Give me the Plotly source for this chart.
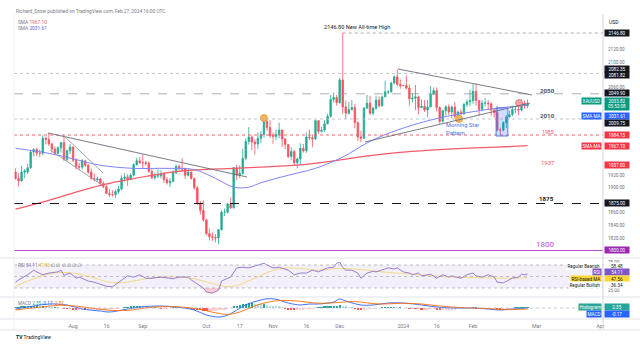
import numpy as np
import plotly.graph_objects as go

W, H = 640, 349
L, R = 14, 37

# ---------------- data ----------------
open_ = [1925,1915,1911,1925,1925,1932,1957,1961,1955,1955,1979,1977,1970,1962,1955,1964,1972,1945,1959,
         1965,1944,1934,1933,1943,1936,1925,1915,1913,1914,1907,1902,1891,1889,1889,1894,1898,1915,1917,1914,1920,1937,1943,
         1940,1940,1939,1926,1916,1919,1919,1922,1913,1908,1910,1924,1934,1931,1930,1920,1925,1915,1900,1875,1864,
         1849,1827,1822,1821,1820,1833,1861,1861,1874,1868,1932,1920,1923,1947,1974,1981,1973,1970,1979,1985,2006,1996,
         1983,1982,1985,1992,1978,1969,1950,1958,1940,1946,1963,1959,1981,1980,1978,2007,1990,1992,2002,2014,2041,2044,
         2036,2072,2029,2019,2025,2028,2004,1981,1979,2027,2035,2019,2027,2040,2031,2045,2053,2053,2067,2077,2065,
         2063,2063,2059,2042,2043,2045,2028,2030,2024,2029,2049,2055,2028,2006,2023,2029,2021,2029,2014,2021,2018,2033,2037,
         2039,2054,2039,2025,2035,2035,2034,2024,2020,1992,1992,2004,2013,2017,2025,2025,2024,2035,2031]
high_ = [1931,1923,1935,1930,1938,1959,1963,1964,1961,1984,1982,1987,1972,1966,1966,1973,1982,1961,1970,
         1966,1947,1940,1946,1944,1938,1931,1923,1918,1916,1910,1904,1898,1896,1897,1903,1920,1923,1922,1923,1939,1948,1949,
         1953,1943,1942,1931,1924,1929,1928,1925,1917,1915,1928,1937,1937,1947,1932,1930,1926,1916,1903,1879,1880,
         1850,1835,1829,1826,1834,1864,1867,1876,1885,1933,1937,1936,1962,1979,1997,1984,1977,1988,1990,2009,2008,2008,
         1988,1993,2004,1993,1979,1970,1965,1960,1948,1971,1970,1988,1993,1985,2008,2008,1997,2008,2018,2048,2052,2048,
         2075,2147,2039,2037,2040,2034,2006,1991,2029,2048,2047,2029,2047,2046,2047,2071,2056,2069,2079,2088,2073,
         2064,2079,2065,2051,2064,2047,2041,2040,2040,2062,2060,2060,2030,2025,2032,2033,2031,2037,2023,2025,2035,2041,2056,
         2065,2066,2040,2040,2043,2040,2036,2027,2031,1996,2006,2016,2023,2031,2030,2035,2041,2039,2041]
low_ = [1913,1902,1910,1915,1922,1930,1950,1950,1949,1952,1969,1967,1956,1952,1953,1956,1943,1942,1954,
        1941,1929,1928,1929,1933,1922,1913,1910,1910,1903,1899,1890,1885,1886,1884,1890,1896,1910,1903,1912,1918,1935,1938,
        1931,1935,1924,1914,1913,1915,1915,1908,1905,1901,1909,1922,1926,1925,1914,1918,1913,1897,1873,1857,1846,
        1824,1816,1815,1813,1810,1832,1855,1859,1866,1867,1912,1915,1921,1944,1969,1960,1953,1962,1971,1980,1991,1980,
        1970,1976,1979,1965,1962,1947,1944,1936,1931,1937,1956,1956,1976,1965,1976,1986,1988,1989,2001,2012,2036,2031,
        2034,2018,2010,2017,2023,1995,1975,1973,1978,2026,2016,2016,2024,2028,2029,2045,2049,2052,2065,2062,2058,
        2062,2057,2031,2036,2024,2017,2027,2021,2013,2029,2049,2022,2002,2004,2015,2016,2011,2011,2009,2012,2016,2029,2030,
        2034,2031,2015,2022,2030,2025,2015,2012,1990,1984,1990,1995,2012,2014,2019,2016,2022,2026,2027]
close_ = [1915,1911,1925,1927,1932,1957,1961,1955,1955,1979,1977,1970,1962,1955,1964,1972,1945,1959,1965,
          1944,1934,1933,1943,1936,1925,1915,1913,1914,1907,1902,1891,1889,1889,1894,1898,1915,1917,1914,1920,1937,1943,1940,
          1940,1939,1926,1916,1919,1919,1922,1913,1908,1910,1924,1934,1931,1930,1920,1925,1915,1900,1875,1864,1849,
          1827,1822,1821,1820,1833,1861,1861,1874,1868,1932,1920,1923,1947,1974,1981,1973,1970,1979,1985,2006,1996,1983,
          1982,1985,1992,1978,1969,1950,1958,1940,1946,1963,1959,1981,1980,1978,2007,1990,1992,2002,2014,2041,2044,2036,
          2072,2029,2019,2025,2028,2004,1981,1979,2027,2035,2019,2027,2040,2031,2045,2053,2053,2067,2077,2065,2063,
          2063,2059,2042,2043,2045,2028,2030,2024,2029,2049,2055,2028,2006,2023,2029,2021,2029,2014,2021,2018,2033,2037,2039,
          2054,2039,2025,2035,2035,2034,2024,2020,1992,1992,2004,2013,2017,2025,2025,2024,2035,2031,2033.8]

# moving averages, sampled along the curve (bar index, value)
sma200_idx = [0, 8, 20, 28, 44, 55, 72, 81, 93, 104, 115, 126, 137, 148, 159, 169]
sma200_val = [1866, 1876, 1893, 1904, 1919, 1927, 1931, 1933, 1936, 1942, 1950, 1956, 1960, 1963, 1965, 1967.1]
sma50_idx = [0, 11, 20, 28, 39, 50, 59, 66, 72, 77, 81, 90, 99, 108, 117, 126, 137, 148, 159, 169]
sma50_val = [1963, 1955, 1945, 1936, 1931, 1931, 1929, 1915, 1901, 1901, 1908, 1920, 1931, 1949, 1974, 1992, 2008, 2019, 2027, 2031.6]

rsi_idx = [0,1,4,6,7,9,11,14,15,16,18,20,21,24,26,28,30,32,34,37,39,41,43,45,48,50,52,54,57,58,60,62,63,65,67,68,70,71,
           73,75,77,80,82,83,85,87,90,92,94,96,98,100,103,105,106,107,108,109,111,113,114,116,118,119,121,123,125,126,
           128,130,131,133,134,137,139,141,143,144,147,149,151,152,154,156,158,159,161,162,164,166,167,168,169]
rsi_val = [40,44,53,61,58,53,56,58,61,52,56,47,49,42,40,37,33,32,40,51,49,53,47,47,49,47,46,49,49,44,37,30,23,21,26,42,47,49,
           65,66,65,70,73,70,65,66,61,53,56,56,61,58,65,66,73,75,66,61,61,56,47,56,59,58,61,65,63,65,
           58,56,53,56,51,54,47,53,49,51,47,53,56,51,49,53,49,40,39,42,47,49,54,53,54.11]
rsima_idx = [0, 5, 10, 15, 20, 25, 30, 34, 39, 44, 49, 54, 59, 64, 69, 72, 76, 81, 86, 91, 96, 100, 107, 114, 123, 134, 144, 156, 162, 169]
rsima_val = [33, 44, 53, 57, 55, 49, 41, 39, 42, 47, 49, 49, 46, 39, 33, 33, 40, 52, 62, 65, 63, 61, 64, 62, 57, 53, 49, 47.5, 47, 47.56]

macd_idx = [0, 6, 11, 17, 22, 28, 31, 37, 41, 48, 53, 59, 63, 67, 70, 72, 76, 80, 83, 86, 90, 94, 97, 100, 105, 107, 109, 114,
            118, 123, 128, 134, 139, 144, 150, 156, 160, 164, 169]
macd_val = [-2.5, 5, 10, 7.5, -2.5, -7.5, -10, -2.5, 2.5, 5, 2.5, -5, -17.5, -22.5, -18, -10, 8, 18, 23, 22, 12.5, 7.5, 10, 10,
            15, 22.5, 17.5, 7.5, 7.5, 12.5, 12.5, 7.5, 2.5, 0, 0, -2.5, -5, -2.5, -0.17]
signal_idx = [0, 8, 15, 22, 30, 37, 45, 53, 60, 66, 70, 74, 80, 86, 92, 100, 107, 112, 120, 128, 134, 140, 147, 155, 162, 169]
signal_val = [-5, 2, 7, 3, -5, -6, 2, 3, -2, -12, -16, -10, 8, 18, 18, 12, 14, 16, 10, 12, 10, 5, 1, -1, -4, -2.52]
hist_val = [2,2,3,3,4, 5,6,6,5,5, 4,3,2,2,1, 0,-1,-2,-2,
            -3,-4,-4,-4,-5, -5,-5,-5,-4,-4, -4,-3,-2,-2,-1, -1,0,1,2,3, 4,5,5,
            4,3,2,1,1, 0,-1,-1,-1,0, 1,1,1,0,0, -1,-2,-4,-5,-6,-7,
            -8,-8,-8,-7,-6, -4,-3,-1,0,4, 6,8,10,11,12, 12,11,10,9,9, 8,6,
            5,4,3,1,-1, -3,-4,-5,-5,-4, -3,-2,-1,-1,0, 1,2,3,4,5, 6,6,
            7,6,4,2,1, -1,-3,-4,-3,-2, -1,-1,0,0,1, 1,2,2,2,1,1,
            0,0,-1,-1,-2, -2,-3,-3,-3,-2, -2,-3,-4,-4,-3, -3,-3,-3,-2,-2, -1,0,0,
            1,1,0,0,0,-1,-1, -1,-3,-4,-3,-2, -1,0,1,1,2,2,2.35]

# drawings (bar index, price)
trendlines = [((10.7, 1987.4), (76.4, 1917.2), '#6a6d78'),
              ((15.7, 1984.2), (28.9, 1923.6), '#9598a1'),
              ((11.4, 1960.3), (28.5, 1904.5), '#9598a1'),
              ((126.2, 2089.5), (170.5, 2048.0), '#6a6d78'),
              ((115.3, 1973.0), (169.8, 2035.2), '#6a6d78')]
circle_idx = [82, 146.4, 166.2]
circle_price = [2011.3, 2009.7, 2035.2]
ath_level = 2146.80
ath_idx = 108
box_idx = (158.6, 162.5)
box_price = (1982.6, 2027.3)

tick_idx = [19, 30, 42, 63, 74, 85, 96, 107, 128, 139, 151, 172, 193]
tick_text = ['Aug', '16', 'Sep', 'Oct', '17', 'Nov', '16', 'Dec', '2024', '16', 'Feb', 'Mar', 'Apr']
price_ticks = [1820, 1840, 1860, 1900, 1920, 2060, 2100, 2120]

# ---------------- figure ----------------
UP, DN = '#22ab94', '#f7525f'
FONT = 'Roboto, Liberation Sans, sans-serif'
x = list(range(len(close_)))


def pyp(ypx):
    return 1 - ypx / H


def pxp(xpx):
    return (xpx - L) / (W - L - R)


fig = go.Figure()
fig.add_trace(go.Candlestick(
    x=x, open=open_, high=high_, low=low_, close=close_,
    increasing=dict(line=dict(color=UP, width=0.8), fillcolor=UP),
    decreasing=dict(line=dict(color=DN, width=0.8), fillcolor=DN),
    whiskerwidth=0, showlegend=False, hoverinfo='skip', xaxis='x', yaxis='y'))
fig.add_trace(go.Scatter(x=sma200_idx, y=sma200_val, mode='lines', xaxis='x', yaxis='y',
                         line=dict(color='#f45b69', width=1.3, shape='spline'), showlegend=False, hoverinfo='skip'))
fig.add_trace(go.Scatter(x=sma50_idx, y=sma50_val, mode='lines', xaxis='x', yaxis='y',
                         line=dict(color='#7f85f5', width=1, shape='spline'), showlegend=False, hoverinfo='skip'))
fig.add_trace(go.Scatter(x=circle_idx, y=circle_price, mode='markers', xaxis='x', yaxis='y',
                         marker=dict(size=7, color=['#f6b45b', '#f6b45b', '#f4a3a3'],
                                     line=dict(color=['#e39a3a', '#e39a3a', '#e57373'], width=0.8)),
                         showlegend=False, hoverinfo='skip'))

# RSI pane
rsi_arr = np.array(rsi_val, dtype=float)
fig.add_trace(go.Scatter(x=rsi_idx, y=[30] * len(rsi_idx), mode='lines', line=dict(width=0),
                         xaxis='x', yaxis='y2', showlegend=False, hoverinfo='skip'))
fig.add_trace(go.Scatter(x=rsi_idx, y=np.minimum(rsi_arr, 30), mode='lines', line=dict(width=0),
                         fill='tonexty', fillcolor='rgba(242,54,69,0.25)',
                         xaxis='x', yaxis='y2', showlegend=False, hoverinfo='skip'))
fig.add_trace(go.Scatter(x=rsima_idx, y=rsima_val, mode='lines', xaxis='x', yaxis='y2',
                         line=dict(color='#f3d46a', width=0.8, shape='spline'), showlegend=False, hoverinfo='skip'))
fig.add_trace(go.Scatter(x=rsi_idx, y=rsi_val, mode='lines', xaxis='x', yaxis='y2',
                         line=dict(color='#8e6fd0', width=0.9), showlegend=False, hoverinfo='skip'))

# MACD pane
hcol = []
for i, v in enumerate(hist_val):
    prev = hist_val[i - 1] if i > 0 else v
    if v >= 0:
        hcol.append('#26a69a' if v >= prev else '#b2dfdb')
    else:
        hcol.append('#ffcdd2' if v >= prev else '#ff5252')
fig.add_trace(go.Bar(x=x, y=hist_val, marker=dict(color=hcol, line=dict(width=0)), width=0.75,
                     xaxis='x', yaxis='y3', showlegend=False, hoverinfo='skip'))
fig.add_trace(go.Scatter(x=macd_idx, y=macd_val, mode='lines', xaxis='x', yaxis='y3',
                         line=dict(color='#2962ff', width=0.9, shape='spline'), showlegend=False, hoverinfo='skip'))
fig.add_trace(go.Scatter(x=signal_idx, y=signal_val, mode='lines', xaxis='x', yaxis='y3',
                         line=dict(color='#ff6d00', width=0.9, shape='spline'), showlegend=False, hoverinfo='skip'))

shapes = []
XMAX = 193.9
# horizontal levels
for lvl, col, dash, wd in [(2082.35, '#b2b5be', 'dot', 0.8), (2049.90, '#9598a1', 'dash', 0.8),
                           (2009.75, '#b2b5be', 'dot', 0.8), (1984.15, '#f7525f', 'dot', 0.9),
                           (1875.0, '#131722', 'dash', 1.1), (1800.0, '#b84fcf', 'solid', 1.2)]:
    shapes.append(dict(type='line', xref='x', yref='y', x0=-0.5, x1=XMAX, y0=lvl, y1=lvl,
                       line=dict(color=col, width=wd, dash=dash)))
shapes.append(dict(type='line', xref='x', yref='y', x0=ath_idx, x1=XMAX, y0=ath_level, y1=ath_level,
                   line=dict(color='#9598a1', width=0.8, dash='dot')))
for (a, b, col) in trendlines:
    shapes.append(dict(type='line', xref='x', yref='y', x0=a[0], y0=a[1], x1=b[0], y1=b[1],
                       line=dict(color=col, width=0.9)))
shapes.append(dict(type='rect', xref='x', yref='y', x0=box_idx[0], x1=box_idx[1], y0=box_price[0], y1=box_price[1],
                   fillcolor='rgba(41,98,255,0.22)', line=dict(color='#4f6fe0', width=0.9)))
# RSI band
shapes.append(dict(type='rect', xref='paper', yref='y2', x0=0, x1=1, y0=30, y1=70,
                   fillcolor='rgba(126,87,194,0.09)', line=dict(width=0), layer='below'))
for lvl, dash in [(70, 'dot'), (30, 'dot'), (50, 'dot')]:
    shapes.append(dict(type='line', xref='paper', yref='y2', x0=0, x1=1, y0=lvl, y1=lvl,
                       line=dict(color='#a3a6af', width=0.7, dash=dash)))
shapes.append(dict(type='line', xref='paper', yref='y3', x0=0, x1=1, y0=0, y1=0,
                   line=dict(color='#b2b5be', width=0.7, dash='dot')))
# pane separators and axis borders
for ypx in [258, 297, 319, 330]:
    shapes.append(dict(type='line', xref='paper', yref='paper', x0=pxp(0), x1=pxp(640), y0=pyp(ypx), y1=pyp(ypx),
                       line=dict(color='#e0e3eb', width=1)))
shapes.append(dict(type='line', xref='paper', yref='paper', x0=1, x1=1, y0=pyp(330), y1=pyp(14),
                   line=dict(color='#d1d4dc', width=1)))
shapes.append(dict(type='line', xref='paper', yref='paper', x0=0, x1=0, y0=pyp(330), y1=pyp(14),
                   line=dict(color='#eef0f3', width=1)))

ann = []


def txt(xp, yp, text, size=5, color='#787b86', xanchor='left', **kw):
    ann.append(dict(x=xp, y=yp, xref='paper', yref='paper', text=text, showarrow=False,
                    xanchor=xanchor, yanchor='middle', font=dict(size=size, color=color, family=FONT), **kw))


def dtxt(xi, yv, text, size=6, color='#434651', yref='y', xanchor='center', **kw):
    ann.append(dict(x=xi, y=yv, xref='x', yref=yref, text=text, showarrow=False,
                    xanchor=xanchor, yanchor='middle', font=dict(size=size, color=color, family=FONT), **kw))


def axbox(yv, text, bg, yref='y', fg='white', yshift=0, width=23):
    ann.append(dict(x=1, y=yv, xref='paper', yref=yref, text=text, showarrow=False, xanchor='left',
                    yanchor='middle', xshift=1, yshift=yshift, bgcolor=bg, borderpad=0.5, width=width,
                    font=dict(size=4.6, color=fg, family=FONT)))


def tagbox(yv, text, bg, yref='y', fg='white', yshift=0):
    ann.append(dict(x=1, y=yv, xref='paper', yref=yref, text=text, showarrow=False, xanchor='right',
                    yanchor='middle', xshift=-1, yshift=yshift, bgcolor=bg, borderpad=0.5,
                    font=dict(size=4.6, color=fg, family=FONT)))


# header / legends
txt(pxp(14), pyp(11), 'Richard_Snow published on TradingView.com, Feb 27, 2024 16:00 UTC', size=4.8)
txt(pxp(16), pyp(22.5), "SMA <span style='color:#f45b69'>1967.10</span>", size=4.8)
txt(pxp(16), pyp(28.5), "SMA <span style='color:#5c63e8'>2031.61</span>", size=4.8)
txt(pxp(16), pyp(265), "RSI <span style='color:#8e6fd0'>54.11</span> <span style='color:#e0b800'>47.56</span> ∅ ∅ ∅ ∅ ∅ ∅", size=4.6)
txt(pxp(16), pyp(303), "MACD <span style='color:#26a69a'>2.35</span> <span style='color:#2962ff'>-0.17</span> <span style='color:#ff6d00'>-2.52</span>", size=4.6)
txt(pxp(14), pyp(337), '<b>TV</b> TradingView', size=5, color='#131722')
txt(pxp(607), pyp(22), 'USD', size=5, color='#131722')

# chart labels
dtxt(112.7, 2156.5, '2146.80 New All-time High', size=5.6, color='#131722')
dtxt(175.7, 2054.4, '<b>2050</b>', size=6.2, color='#50535e')
dtxt(175.7, 2014.5, '<b>2010</b>', size=6.2, color='#50535e')
dtxt(175.7, 1989.0, '1985', size=5.2, color='#f7525f')
dtxt(175.7, 1941.0, '1937', size=6, color='#f7525f')
dtxt(175.4, 1882.0, '<b>1875</b>', size=6.2, color='#131722')
dtxt(174.8, 1808.8, '1800', size=8, color='#b84fcf')
dtxt(141.4, 1994.0, 'Morning Star<br>Pattern', size=5.8, color='#4f72e3', xanchor='left', align='left')

# right price-axis boxes
DARK = '#131722'
axbox(2146.80, '2146.80', DARK)
axbox(2082.1, '2082.35', DARK, yshift=5)
axbox(2082.1, '2081.82', DARK, yshift=-1.5)
axbox(2049.90, '2049.90', DARK, yshift=1)
axbox(2032.9, '2033.82<br>05:53:08', '#089981')
tagbox(2038.4, 'XAUUSD', '#089981')
axbox(2031.61, '2031.61', '#2962ff', yshift=-11)
tagbox(2031.61, 'SMA·MA', '#2962ff', yshift=-11)
axbox(2009.75, '2009.75', DARK, yshift=-4)
axbox(1984.15, '1984.15', '#f23645')
axbox(1967.10, '1967.10', '#f23645')
tagbox(1967.10, 'SMA·MA', '#f23645')
axbox(1937.0, '1937.00', '#f23645')
axbox(1875.0, '1875.00', DARK)
axbox(1800.0, '1800.00', '#9c27b0')
# RSI pane boxes
axbox(68.5, '58.48', 'white', yref='y2', fg='#131722')
tagbox(68.5, 'Regular Bearish', 'white', yref='y2', fg='#131722')
axbox(57.5, '54.11', '#7e57c2', yref='y2')
tagbox(57.5, 'RSI', '#7e57c2', yref='y2')
axbox(46.0, '47.56', '#fdd835', yref='y2', fg='#131722')
tagbox(46.0, 'RSI-based MA', '#fdd835', yref='y2', fg='#131722')
axbox(34.5, '36.34', 'white', yref='y2', fg='#131722')
tagbox(34.5, 'Regular Bullish', 'white', yref='y2', fg='#131722')
# MACD pane boxes
axbox(3, '2.35', '#26a69a', yref='y3')
tagbox(3, 'Histogram', '#26a69a', yref='y3')
axbox(-14, '-0.17', '#2962ff', yref='y3')
tagbox(-14, 'MACD', '#2962ff', yref='y3')

fig.update_layout(
    width=W, height=H, margin=dict(l=L, r=R, t=0, b=0),
    paper_bgcolor='white', plot_bgcolor='white',
    font=dict(family=FONT),
    xaxis=dict(domain=[0, 1], range=[-0.5, XMAX], anchor='y3', tickvals=tick_idx, ticktext=tick_text,
               showgrid=False, zeroline=False, showline=False, ticks='', ticklabelstandoff=3,
               tickfont=dict(size=5.3, color='#787b86'), rangeslider=dict(visible=False), fixedrange=True),
    yaxis=dict(domain=[pyp(257), pyp(14)], range=[1789.6, 2177.2], side='right', tickvals=price_ticks,
               ticktext=[f'{v:.2f}' for v in price_ticks], showgrid=False, zeroline=False, ticks='',
               ticklabelstandoff=4, tickfont=dict(size=4.6, color='#6a6d78')),
    yaxis2=dict(domain=[pyp(297), pyp(258)], range=[14.3, 82.2], side='right', anchor='x',
                tickvals=[25, 75], ticktext=['25.00', '75.00'], showgrid=False, zeroline=False, ticks='',
                ticklabelstandoff=4, tickfont=dict(size=4.6, color='#6a6d78')),
    yaxis3=dict(domain=[pyp(319), pyp(297)], range=[-27.5, 27.5], side='right', anchor='x',
                showticklabels=False, showgrid=False, zeroline=False, ticks=''),
    shapes=shapes, annotations=ann, bargap=0, showlegend=False,
)
fig.write_html('out.html')
